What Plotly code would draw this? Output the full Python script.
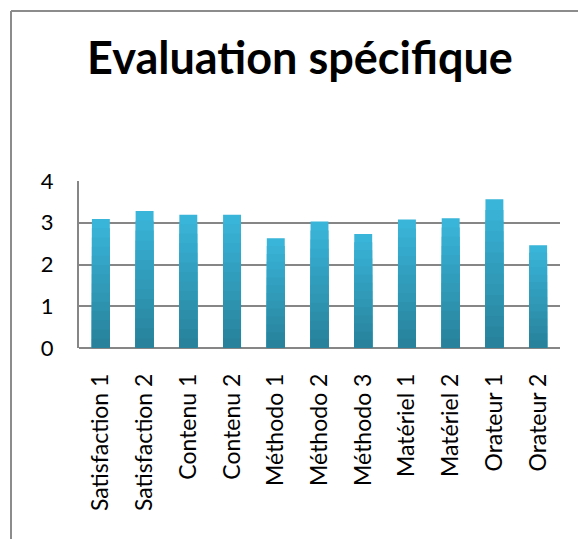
import plotly.graph_objects as go

categories = ["Satisfaction 1", "Satisfaction 2", "Contenu 1", "Contenu 2",
              "Méthodo 1", "Méthodo 2", "Méthodo 3", "Matériel 1",
              "Matériel 2", "Orateur 1", "Orateur 2"]
values = [3.09, 3.28, 3.19, 3.19, 2.63, 3.03, 2.73, 3.08, 3.11, 3.56, 2.46]
y_ticks = [0, 1, 2, 3, 4]
title_text = "Evaluation spécifique"

# vertical gradient approximated with overlaid bars (light top -> dark bottom)
top_rgb = (57, 181, 217)
bot_rgb = (40, 130, 155)
steps = 14

fig = go.Figure()
for i in range(steps):
    frac = 1 - i / steps
    t = i / (steps - 1)
    c = tuple(round(top_rgb[k] + (bot_rgb[k] - top_rgb[k]) * t) for k in range(3))
    fig.add_trace(go.Bar(
        x=categories,
        y=[v * frac for v in values],
        marker=dict(color="rgb(%d,%d,%d)" % c, line=dict(width=0)),
        showlegend=False,
        hoverinfo="skip" if i else None,
    ))

font_family = "Lato, Carlito, Calibri, 'Open Sans', sans-serif"

W, H = 578, 539
L, R, T, B = 79, 18, 181, 191
pw = W - L - R
ph = H - T - B

def px_x(p):
    return (p - L) / pw

def px_y(p):
    return (H - B - p) / ph

fig.update_layout(
    width=W, height=H,
    margin=dict(l=L, r=R, t=T, b=B, pad=0, autoexpand=False),
    barmode="overlay",
    bargap=0.59,
    plot_bgcolor="white",
    paper_bgcolor="white",
    title=dict(text="<b>" + title_text + "</b>", x=300 / W, xanchor="center",
               y=1 - 58 / H, yanchor="middle", yref="container",
               font=dict(family=font_family, size=45, color="black"),
               automargin=False),
    xaxis=dict(
        tickangle=-90, showgrid=False, showline=False, ticks="",
        tickfont=dict(family=font_family, size=23, color="black"),
        ticklabelstandoff=20, automargin=False,
    ),
    yaxis=dict(
        range=[0, 4], tickvals=y_ticks, showgrid=True,
        gridcolor="#868686", gridwidth=2,
        showline=True, linecolor="#868686", linewidth=2,
        zeroline=True, zerolinecolor="#868686", zerolinewidth=2,
        ticks="", tickfont=dict(family=font_family, size=22, color="black"),
        ticklabelstandoff=19, automargin=False,
    ),
    shapes=[
        dict(type="line", xref="paper", yref="paper",
             x0=px_x(11), x1=px_x(11), y0=px_y(560), y1=px_y(11),
             line=dict(color="#8c8c8c", width=2)),
        dict(type="line", xref="paper", yref="paper",
             x0=px_x(11), x1=px_x(600), y0=px_y(11), y1=px_y(11),
             line=dict(color="#8c8c8c", width=2)),
    ],
)

fig.write_html("out.html", config={"displayModeBar": False},
               post_script="document.body.style.margin='0';")
